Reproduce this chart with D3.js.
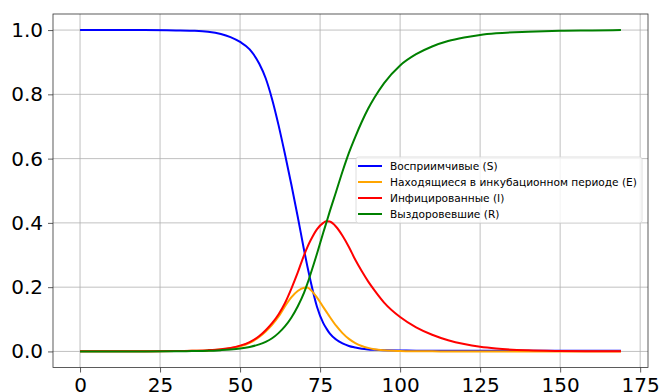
<!DOCTYPE html>
<html>
<head>
<meta charset="utf-8">
<script src="https://cdn.jsdelivr.net/npm/d3@7"></script>
<style>
  body { margin: 0; background: #fff; }
  text { font-family: "DejaVu Sans", sans-serif; }
</style>
</head>
<body>
<script>
const days = [0, 10, 20, 30, 35, 40, 44, 47, 50, 53, 56, 58, 60, 62, 64, 66, 68, 70, 71, 72, 74, 76, 77, 78, 80, 82, 84, 86, 88, 90, 92, 95, 100, 105, 110, 115, 120, 125, 130, 140, 150, 160, 169];

const susceptible = [1.0, 1.0, 1.0, 0.999, 0.998, 0.995, 0.988, 0.978, 0.963, 0.94, 0.895, 0.85, 0.785, 0.705, 0.615, 0.52, 0.42, 0.315, 0.266, 0.22, 0.14, 0.088, 0.071, 0.056, 0.037, 0.025, 0.017, 0.012, 0.008, 0.006, 0.005, 0.004, 0.003, 0.0025, 0.002, 0.002, 0.002, 0.002, 0.002, 0.002, 0.002, 0.002, 0.002];
const exposed = [0.0002, 0.0003, 0.0005, 0.001, 0.0018, 0.003, 0.006, 0.01, 0.016, 0.027, 0.045, 0.062, 0.083, 0.108, 0.14, 0.168, 0.188, 0.198, 0.199, 0.192, 0.168, 0.138, 0.123, 0.108, 0.08, 0.057, 0.039, 0.026, 0.017, 0.011, 0.0068, 0.0035, 0.0013, 0.0005, 0.0002, 0.0001, 0.0001, 0, 0, 0, 0, 0, 0];
const infected = [0.0002, 0.0003, 0.0005, 0.001, 0.002, 0.004, 0.007, 0.011, 0.018, 0.029, 0.048, 0.066, 0.088, 0.115, 0.15, 0.195, 0.245, 0.30, 0.324, 0.345, 0.38, 0.40, 0.405, 0.404, 0.388, 0.36, 0.325, 0.285, 0.25, 0.218, 0.19, 0.152, 0.107, 0.075, 0.052, 0.035, 0.023, 0.0145, 0.009, 0.0035, 0.0015, 0.0007, 0.0003];
const recovered = [0, 0, 0, 0.0005, 0.001, 0.002, 0.004, 0.006, 0.009, 0.014, 0.022, 0.03, 0.041, 0.057, 0.078, 0.105, 0.14, 0.183, 0.21, 0.24, 0.303, 0.37, 0.402, 0.435, 0.497, 0.56, 0.618, 0.668, 0.714, 0.755, 0.79, 0.835, 0.89, 0.925, 0.949, 0.966, 0.977, 0.985, 0.99, 0.995, 0.998, 0.999, 1.0];

const xTicks = [0, 25, 50, 75, 100, 125, 150, 175];
const yTicks = [0.0, 0.2, 0.4, 0.6, 0.8, 1.0];

const seriesNames = ["Восприимчивые (S)", "Находящиеся в инкубационном периоде (E)", "Инфицированные (I)", "Выздоровевшие (R)"];
const seriesValues = [susceptible, exposed, infected, recovered];
const seriesColors = ["#0000ff", "#ffa500", "#ff0000", "#008000"];

const width = 661, height = 392;
const margin = { left: 53, top: 14, right: 13, bottom: 24.5 };

const svg = d3.select("body").append("svg")
    .attr("width", width)
    .attr("height", height);

const xMin = 0, xMax = 169;
const xPad = (xMax - xMin) * 0.05;
const x = d3.scaleLinear()
    .domain([xMin - xPad, xMax + xPad])
    .range([margin.left, width - margin.right]);

const y = d3.scaleLinear()
    .domain([-0.05, 1.05])
    .range([height - margin.bottom, margin.top]);

// grid
const grid = svg.append("g");
grid.selectAll(".gx")
    .data(xTicks.filter(t => x(t) <= width - margin.right))
    .enter().append("line")
    .attr("x1", d => x(d)).attr("x2", d => x(d))
    .attr("y1", margin.top).attr("y2", height - margin.bottom)
    .attr("stroke", "#b0b0b0").attr("stroke-width", 0.8);
grid.selectAll(".gy")
    .data(yTicks)
    .enter().append("line")
    .attr("x1", margin.left).attr("x2", width - margin.right)
    .attr("y1", d => y(d)).attr("y2", d => y(d))
    .attr("stroke", "#b0b0b0").attr("stroke-width", 0.8);

// lines
const line = d3.line()
    .x(d => x(d[0]))
    .y(d => y(d[1]))
    .curve(d3.curveMonotoneX);

seriesValues.forEach((vals, i) => {
    svg.append("path")
        .datum(days.map((t, j) => [t, vals[j]]))
        .attr("fill", "none")
        .attr("stroke", seriesColors[i])
        .attr("stroke-width", 2)
        .attr("d", line);
});

// axes
const xAxis = svg.append("g")
    .attr("transform", `translate(0,${height - margin.bottom})`)
    .call(d3.axisBottom(x).tickValues(xTicks).tickFormat(d3.format("d")).tickSize(5).tickPadding(5.5));
const yAxis = svg.append("g")
    .attr("transform", `translate(${margin.left},0)`)
    .call(d3.axisLeft(y).tickValues(yTicks).tickFormat(d3.format(".1f")).tickSize(5).tickPadding(5));

[xAxis, yAxis].forEach(a => {
    a.select(".domain").remove();
    a.selectAll("line").attr("stroke", "#333").attr("stroke-width", 0.8);
    a.selectAll("text").attr("font-size", 20).attr("fill", "#000")
        .style("font-family", "DejaVu Sans, sans-serif");
});

// frame
svg.append("rect")
    .attr("x", margin.left).attr("y", margin.top)
    .attr("width", width - margin.left - margin.right)
    .attr("height", height - margin.top - margin.bottom)
    .attr("fill", "none").attr("stroke", "#333").attr("stroke-width", 0.8);

// legend
const lg = svg.append("g").attr("transform", "translate(356,157)");
lg.append("rect")
    .attr("width", 286).attr("height", 66)
    .attr("rx", 2.5)
    .attr("fill", "white").attr("fill-opacity", 0.8)
    .attr("stroke", "#d6d6d6").attr("stroke-width", 0.8);

const items = lg.selectAll(".item")
    .data(seriesNames)
    .enter().append("g")
    .attr("transform", (d, i) => `translate(0,${9 + i * 16})`);
items.append("line")
    .attr("x1", 2).attr("x2", 26)
    .attr("stroke", (d, i) => seriesColors[i])
    .attr("stroke-width", 2);
items.append("text")
    .attr("x", 34).attr("y", 0)
    .attr("dy", "0.35em")
    .attr("font-size", 10.6)
    .attr("fill", "#000")
    .text(d => d);
</script>
</body>
</html>
